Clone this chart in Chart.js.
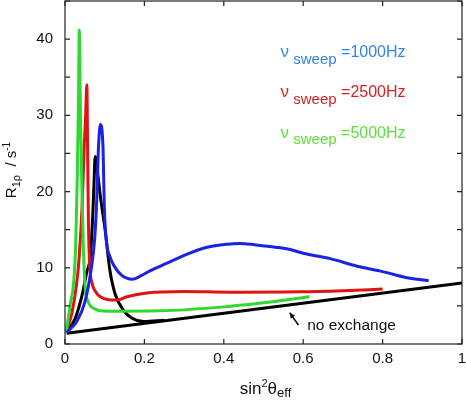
<!DOCTYPE html>
<html>
<head>
<meta charset="utf-8">
<script src="https://cdn.jsdelivr.net/npm/chart.js@4.4.0/dist/chart.umd.min.js"></script>
<style>
  html, body { margin: 0; padding: 0; background: #fff; }
  #wrap { width: 466px; height: 402px; }
</style>
</head>
<body>
<div id="wrap"><canvas id="c" width="466" height="402"></canvas></div>
<script>
// ---- data ----
const sweep1000X = [0.004,0.03,0.05,0.065,0.075,0.08,0.084,0.089,0.096,0.099,0.105,0.113,0.122,0.143,0.17,0.193,0.214,0.257,0.308,0.358,0.409,0.44,0.48,0.53,0.567,0.60,0.668,0.736,0.80,0.862,0.916];
const sweep1000Y = [1.5,3.0,5.5,9.5,14,19,25.4,28.8,25.4,18,13.2,11.5,10.4,9.0,8.5,9.0,9.6,10.6,11.8,12.7,13.1,13.2,13.0,12.7,12.4,11.9,11.2,10.2,9.5,8.7,8.3];

const sweep2500X = [0.003,0.018,0.030,0.036,0.043,0.048,0.052,0.055,0.057,0.059,0.062,0.068,0.078,0.089,0.11,0.13,0.156,0.206,0.30,0.416,0.59,0.70,0.80];
const sweep2500Y = [1.5,4.2,8.2,11.6,18,25.4,30,34,25.4,16,10.5,8.0,6.8,6.2,5.8,5.76,6.2,6.7,6.9,6.8,6.85,7.0,7.2];

const sweep5000X = [0.003,0.013,0.022,0.027,0.031,0.034,0.036,0.039,0.042,0.046,0.051,0.058,0.064,0.075,0.085,0.11,0.24,0.416,0.517,0.616];
const sweep5000Y = [1.5,5.1,8.2,13,22,32,41.2,30,22,13,7.3,5.6,5.0,4.6,4.4,4.3,4.35,4.95,5.5,6.2];

const exchangeX = [0.004,0.026,0.043,0.055,0.064,0.070,0.073,0.076,0.082,0.090,0.101,0.113,0.126,0.147,0.168,0.198,0.25];
const exchangeY = [1.5,3.4,6.4,9.5,11.6,17,21,24.6,22.5,19,15,9.7,6.6,4.45,3.4,2.95,3.1];

const noExchangeX = [0.004,1.0];
const noExchangeY = [1.4,8.0];

const xTickValues = [0,0.2,0.4,0.6,0.8,1];
const yLabelStep = 10;

const legendLabels = ['=1000Hz','=2500Hz','=5000Hz'];
const annotationText = 'no exchange';

// ---- build ----
const pts = (xs, ys) => xs.map((x, i) => ({x: x, y: ys[i]}));
const FONT = '"Liberation Sans", Arial, Helvetica, sans-serif';

const lineBlue = '#1a22e6', lineRed = '#e01212', lineGreen = '#2ed82e';
const textBlue = '#3584e4', textRed = '#d42222', textGreen = '#5ee03c';

function ds(data, color, w) {
  return { data: data, borderColor: color, backgroundColor: color, borderWidth: w,
           showLine: true, pointRadius: 0, fill: false, tension: 0.25,
           cubicInterpolationMode: 'monotone' };
}

function drawRich(ctx, segs, x, y) {
  let cx = x;
  for (const s of segs) {
    ctx.font = s.size + 'px ' + FONT;
    ctx.fillText(s.t, cx, y + (s.dy || 0));
    cx += ctx.measureText(s.t).width;
  }
  return cx - x;
}
function richWidth(ctx, segs) {
  let w = 0;
  for (const s of segs) { ctx.font = s.size + 'px ' + FONT; w += ctx.measureText(s.t).width; }
  return w;
}

const overlay = {
  id: 'overlay',
  afterDatasetsDraw(chart) {
    const ctx = chart.ctx, a = chart.chartArea;
    const xs = chart.scales.x, ys = chart.scales.y;
    ctx.save();
    // frame
    ctx.strokeStyle = '#222';
    ctx.lineWidth = 1.2;
    ctx.strokeRect(a.left, a.top, a.right - a.left, a.bottom - a.top);
    // inward ticks on all sides
    const tl = 5;
    ctx.beginPath();
    xs.ticks.forEach(t => {
      const px = xs.getPixelForValue(t.value);
      ctx.moveTo(px, a.bottom); ctx.lineTo(px, a.bottom - tl);
      ctx.moveTo(px, a.top); ctx.lineTo(px, a.top + tl);
    });
    ys.ticks.forEach(t => {
      const py = ys.getPixelForValue(t.value);
      ctx.moveTo(a.left, py); ctx.lineTo(a.left + tl, py);
      ctx.moveTo(a.right, py); ctx.lineTo(a.right - tl, py);
    });
    ctx.stroke();

    ctx.textBaseline = 'alphabetic';
    ctx.textAlign = 'left';
    // legend-like labels
    const colors = [textBlue, textRed, textGreen];
    const rows = [37.6, 32.4, 27.05];
    legendLabels.forEach((lab, i) => {
      ctx.fillStyle = colors[i];
      const x0 = xs.getPixelForValue(0.543);
      const y0 = ys.getPixelForValue(rows[i]);
      drawRich(ctx, [
        {t: 'ν', size: 17, dy: 0},
        {t: ' sweep', size: 15, dy: 6.5},
        {t: ' ' + lab, size: 16, dy: 0}
      ], x0, y0);
    });

    // annotation
    ctx.fillStyle = '#111';
    ctx.font = '15.5px ' + FONT;
    ctx.fillText(annotationText, xs.getPixelForValue(0.61), ys.getPixelForValue(1.9));
    const ax0 = xs.getPixelForValue(0.588), ay0 = ys.getPixelForValue(2.5);
    const ax1 = xs.getPixelForValue(0.566), ay1 = ys.getPixelForValue(4.1);
    ctx.strokeStyle = '#111';
    ctx.lineWidth = 1.6;
    ctx.beginPath(); ctx.moveTo(ax0, ay0); ctx.lineTo(ax1, ay1); ctx.stroke();
    const ang = Math.atan2(ay1 - ay0, ax1 - ax0);
    const hl = 6;
    ctx.fillStyle = '#111';
    ctx.beginPath();
    ctx.moveTo(ax1, ay1);
    ctx.lineTo(ax1 - hl * Math.cos(ang - 0.45), ay1 - hl * Math.sin(ang - 0.45));
    ctx.lineTo(ax1 - hl * Math.cos(ang + 0.45), ay1 - hl * Math.sin(ang + 0.45));
    ctx.closePath(); ctx.fill();

    // x axis title
    ctx.fillStyle = '#111';
    const xt = [
      {t: 'sin', size: 17, dy: 0},
      {t: '2', size: 11, dy: -7},
      {t: 'θ', size: 17, dy: 0},
      {t: 'eff', size: 13, dy: 3.5}
    ];
    const xw = richWidth(ctx, xt);
    drawRich(ctx, xt, (a.left + a.right) / 2 - xw / 2 + 2, 393.5);

    // y axis title (rotated)
    const yt = [
      {t: 'R', size: 15, dy: 0},
      {t: '1ρ', size: 11, dy: 4},
      {t: '  / s', size: 15, dy: 0},
      {t: '-1', size: 10, dy: -6}
    ];
    const yw = richWidth(ctx, yt);
    ctx.translate(16, 170);
    ctx.rotate(-Math.PI / 2);
    drawRich(ctx, yt, -yw / 2, 0);
    ctx.restore();
  }
};

new Chart(document.getElementById('c'), {
  type: 'scatter',
  data: {
    datasets: [
      ds(pts(sweep1000X, sweep1000Y), lineBlue, 3),
      ds(pts(sweep5000X, sweep5000Y), lineGreen, 3),
      ds(pts(sweep2500X, sweep2500Y), lineRed, 3),
      ds(pts(exchangeX, exchangeY), '#000', 3),
      ds(pts(noExchangeX, noExchangeY), '#000', 3)
    ]
  },
  options: {
    responsive: false,
    animation: false,
    devicePixelRatio: 1,
    layout: { padding: { top: 1, right: 4, left: 0, bottom: 0 } },
    plugins: { legend: { display: false }, tooltip: { enabled: false } },
    scales: {
      x: {
        type: 'linear', min: 0, max: 1,
        afterBuildTicks: s => { s.ticks = xTickValues.map(v => ({value: v})); },
        ticks: { color: '#111', padding: 6, maxRotation: 0, autoSkip: false,
                 font: { size: 15, family: FONT },
                 callback: v => String(v) },
        grid: { display: false, drawTicks: false },
        border: { display: false },
        afterFit: s => { s.height = 58; s.paddingLeft = 0; s.paddingRight = 0; }
      },
      y: {
        type: 'linear', min: 0, max: 45,
        ticks: { stepSize: 5, color: '#111', padding: 12, autoSkip: false,
                 font: { size: 15, family: FONT },
                 callback: v => (v % yLabelStep === 0 ? String(v) : '') },
        grid: { display: false, drawTicks: false },
        border: { display: false },
        afterFit: s => { s.width = 65; s.paddingTop = 0; s.paddingBottom = 0; }
      }
    }
  },
  plugins: [overlay]
});
</script>
</body>
</html>
